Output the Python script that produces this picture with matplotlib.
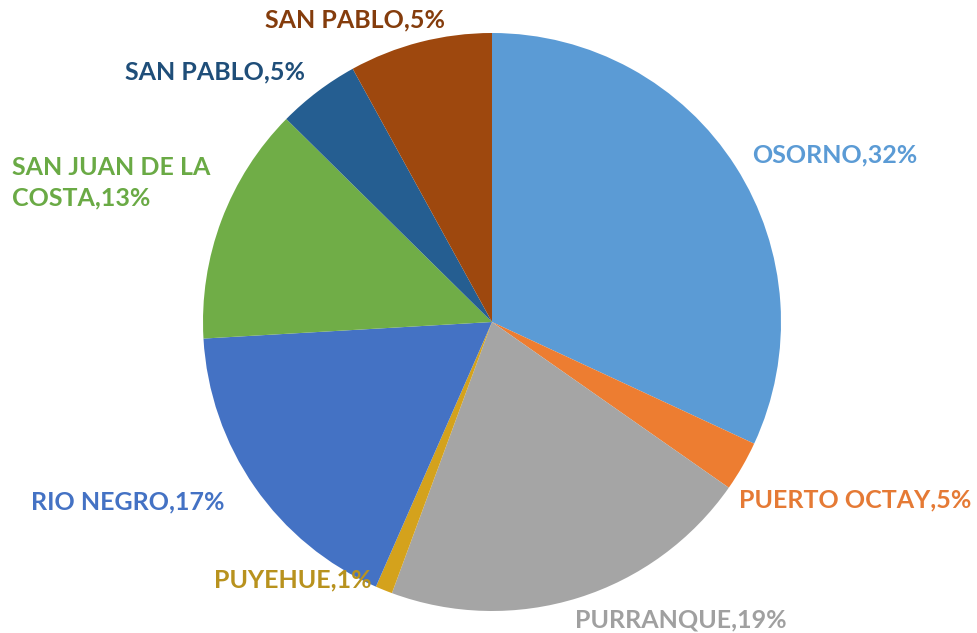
import matplotlib.pyplot as plt

# slice shares (clockwise from 12 o'clock)
comunas = ['OSORNO', 'PUERTO OCTAY', 'PURRANQUE', 'PUYEHUE', 'RIO NEGRO',
           'SAN JUAN DE LA\nCOSTA', 'SAN PABLO', 'SAN PABLO']
shares = [31.9, 2.8, 20.9, 0.95, 17.5, 13.3, 4.6, 8.0]
label_pct = ['32%', '5%', '19%', '1%', '17%', '13%', '5%', '5%']

colors = ['#5B9BD5', '#ED7D31', '#A5A5A5', '#D4A21C', '#4472C4',
          '#70AD47', '#255E91', '#9E480E']
text_colors = ['#5B9BD5', '#E57A35', '#A0A0A0', '#B8921E', '#4472C4',
               '#6AAA45', '#1F4E79', '#843C0C']

# label anchors in pixels (x, y from top) and alignment
label_pos = [(835, 155, 'center'), (855, 500, 'center'), (681, 620, 'center'),
             (293, 580, 'center'), (128, 502, 'center'), (12, 183, 'left'),
             (215, 72, 'center'), (355, 20, 'center')]

fig = plt.figure(figsize=(9.77, 6.33), dpi=100)
ax = fig.add_axes([0, 0, 1, 1])

ax.pie(shares, colors=colors, startangle=90, counterclock=False,
       center=(492, 633 - 322), radius=289, normalize=True,
       wedgeprops=dict(linewidth=0))
ax.set_xlim(0, 977)
ax.set_ylim(0, 633)
ax.set_aspect('equal')
ax.axis('off')

for name, pct, tc, (x, y, ha) in zip(comunas, label_pct, text_colors, label_pos):
    ax.text(x, 633 - y, f'{name},{pct}', color=tc, ha=ha, va='center',
            fontsize=18, fontweight='bold', family='Lato', linespacing=1.4)

fig.savefig('out.png', dpi=100)
